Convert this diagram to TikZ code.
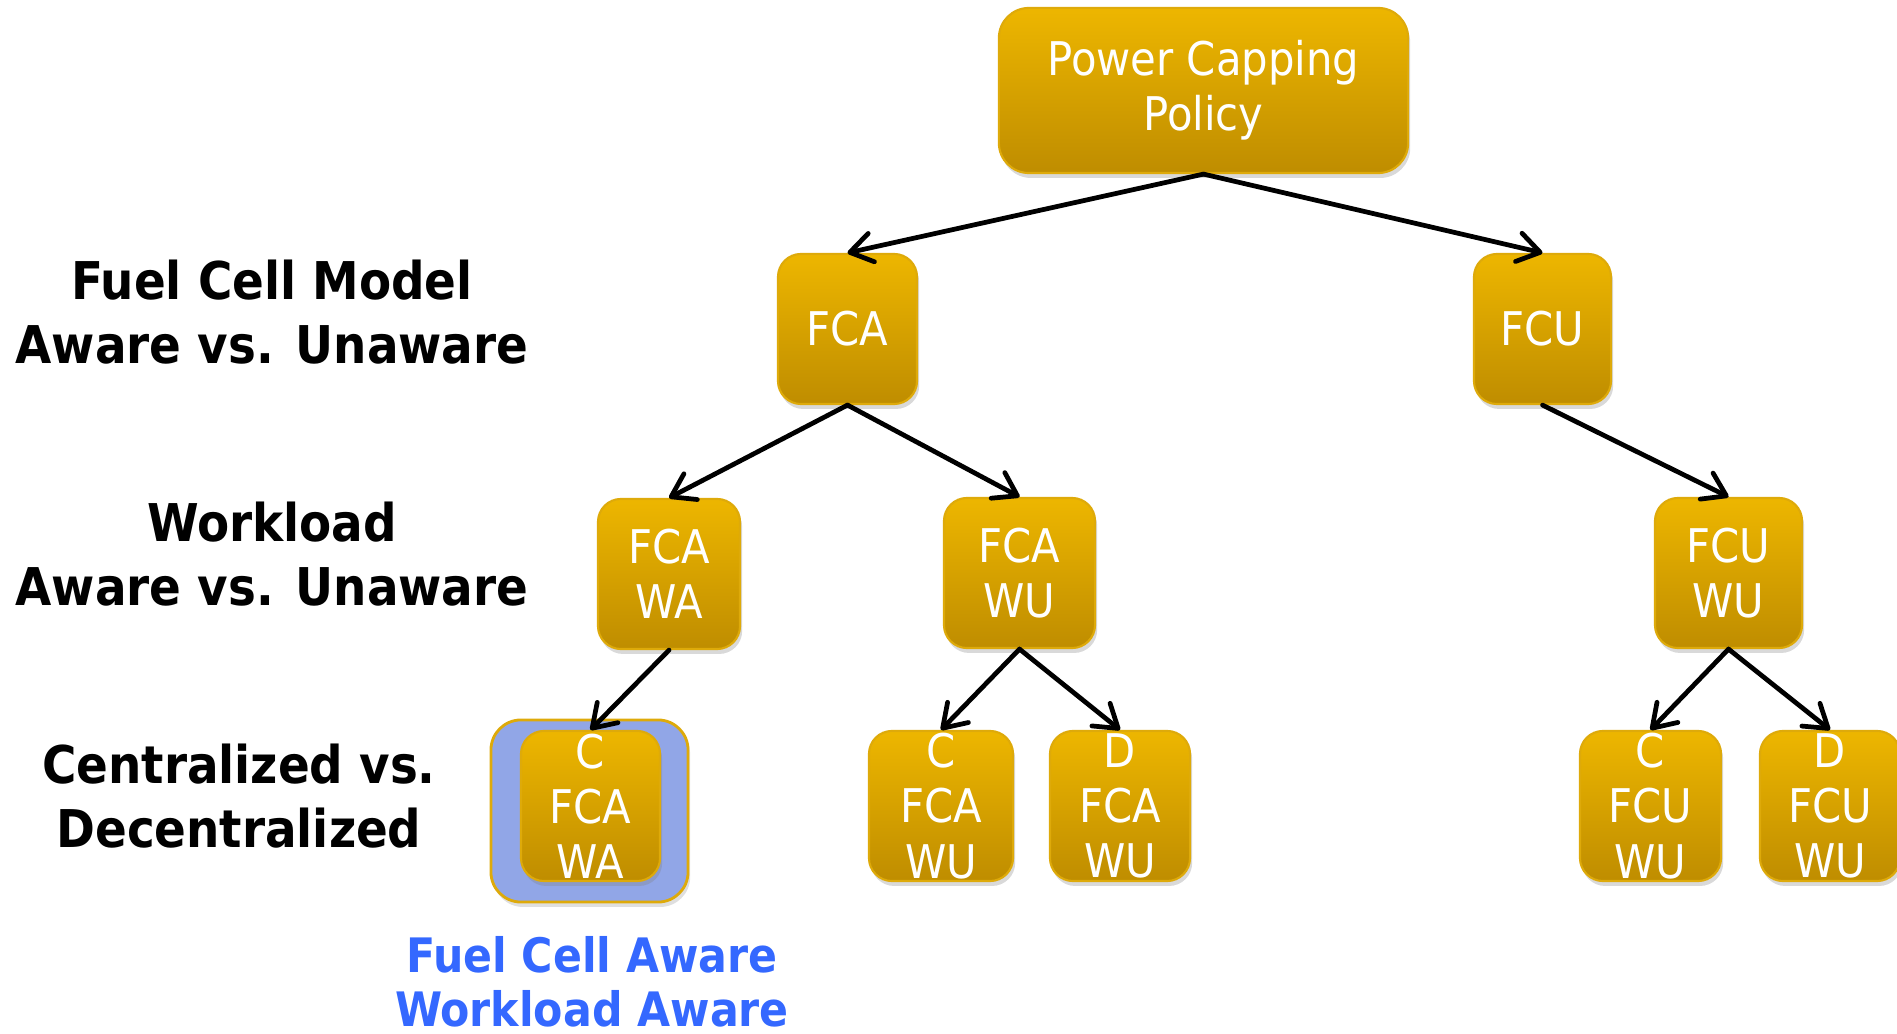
\documentclass[tikz,border=0pt]{standalone}
\usepackage{fontspec}
\setmainfont{DejaVu Sans Condensed}
\usetikzlibrary{arrows.meta,positioning,shadows}
\definecolor{goldtop}{RGB}{237,182,0}
\definecolor{goldbot}{RGB}{191,141,0}
\definecolor{goldrim}{RGB}{222,170,10}
\definecolor{pickbg}{RGB}{145,166,231}
\definecolor{pickfg}{RGB}{52,104,255}
\tikzset{cell/.style={draw=goldrim,line width=0.6pt,rounded corners=2.3mm,top color=goldtop,bottom color=goldbot,minimum width=1.42cm,minimum height=1.5cm,inner sep=0pt,align=center,text=white,font=\fontsize{13.2}{15.7}\selectfont,drop shadow={shadow xshift=0.6pt,shadow yshift=-1.4pt,opacity=0.3}},celltxt/.style={text=white,align=center,inner sep=0pt,font=\fontsize{13.2}{15.7}\selectfont},lvl/.style={align=center,font=\fontsize{14.8}{18.2}\selectfont\bfseries},tree/.style={-{Straight Barb[length=2.2mm,width=2.9mm,round]},line width=1.35pt,line cap=round}}

\begin{document}
\begin{tikzpicture}[x=0.01cm,y=0.01cm]
\useasboundingbox (0,0) rectangle (1897,1033);
% levels on the left
\node[lvl] (lvlmodel) at (272,721) {Fuel Cell Model\\Aware vs. Unaware};
\node[lvl] (lvlload) at (272,479) {Workload\\Aware vs. Unaware};
\node[lvl] (lvlctrl) at (239,237) {Centralized vs.\\Decentralized};
% tree
\node[cell,minimum width=4.09cm,minimum height=1.65cm,rounded corners=3mm] (root) at (1203.5,942.5) {Power Capping\\Policy};
\node[cell,minimum width=1.39cm] (fca) at (847.5,704) {FCA};
\node[cell,minimum width=1.37cm] (fcu) at (1542.5,704) {FCU};
\node[cell] (fcawa) at (669,459) {FCA\\WA};
\node[cell,minimum width=1.51cm] (fcawu) at (1019.5,460) {FCA\\WU};
\node[cell,minimum width=1.47cm] (fcuwu) at (1728.5,460) {FCU\\WU};
\node[draw=goldrim,line width=0.8pt,fill=pickbg,rounded corners=3mm,minimum width=1.97cm,minimum height=1.82cm,drop shadow={shadow xshift=0.6pt,shadow yshift=-1.4pt,opacity=0.25}] (pick) at (589.5,222) {};
\node[cell,minimum width=1.39cm,label={[celltxt]center:{C\\FCA\\WA}}] (cfcawa) at (590.5,227) {};
\node[cell,minimum width=1.44cm,label={[celltxt]center:{C\\FCA\\WU}}] (cfcawu) at (941,227) {};
\node[cell,minimum width=1.4cm,label={[celltxt]center:{D\\FCA\\WU}}] (dfcawu) at (1120,227) {};
\node[cell,minimum width=1.41cm,label={[celltxt]center:{C\\FCU\\WU}}] (cfcuwu) at (1650.5,227) {};
\node[cell,minimum width=1.4cm,label={[celltxt]center:{D\\FCU\\WU}}] (dfcuwu) at (1830,227) {};
\node[text=pickfg,align=center,font=\fontsize{13.5}{15.4}\selectfont\bfseries] (picktxt) at (592,51) {Fuel Cell Aware\\Workload Aware};
\draw[tree] (root.south)--(fca.north);\draw[tree] (root.south)--(fcu.north);
\draw[tree] (fca.south)--(fcawa.north);\draw[tree] (fca.south)--(fcawu.north);
\draw[tree] (fcu.south)--(fcuwu.north);
\draw[tree] (fcawa.south)--(cfcawa.north);
\draw[tree] (fcawu.south)--(cfcawu.north);\draw[tree] (fcawu.south)--(dfcawu.north);
\draw[tree] (fcuwu.south)--(cfcuwu.north);\draw[tree] (fcuwu.south)--(dfcuwu.north);
\end{tikzpicture}
\end{document}
